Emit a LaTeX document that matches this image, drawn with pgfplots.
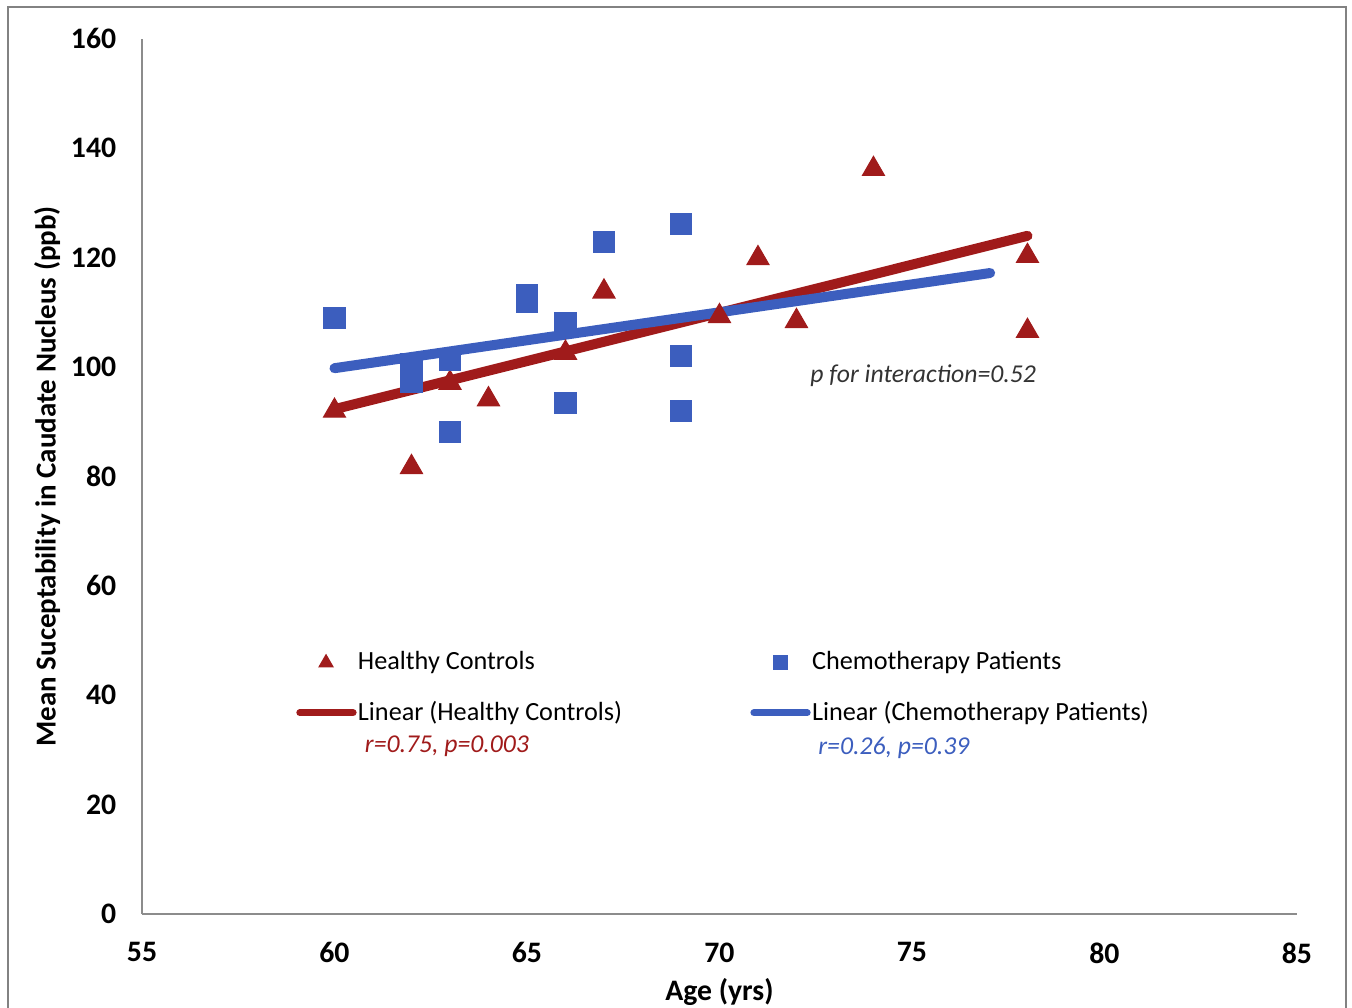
\documentclass[border=0pt]{standalone}
\usepackage{fontspec}
\setmainfont{Carlito}
\usepackage{pgfplots}
\pgfplotsset{compat=1.18}
\definecolor{hcred}{RGB}{160,27,27}
\definecolor{cpblue}{RGB}{60,94,190}
\definecolor{framegray}{RGB}{130,130,130}
\definecolor{axisgray}{RGB}{140,140,140}

\pgfplotsset{
    tri legend/.style={legend image code/.code={\path (0pt,0pt) (22pt,0pt);
        \draw[##1, mark size=3pt] plot coordinates {(11pt,0pt)};}},
    sq legend/.style={legend image code/.code={\path (0pt,0pt) (22pt,0pt);
        \draw[##1, mark size=2.6pt] plot coordinates {(11pt,0pt)};}},
    fit legend/.style={legend image code/.code={\draw[##1, line width=2.6pt] (1.3pt,0pt) -- (21pt,0pt);}},
}

\begin{document}
\begin{tikzpicture}
\path[use as bounding box] (-52.51pt,-34.39pt) rectangle (447.46pt,338.0pt);
\draw[framegray, line width=1pt] (-49.6pt,-40pt) -- (-49.6pt,335.4pt) -- (445.2pt,335.4pt) -- (445.2pt,-40pt);
\begin{axis}[
    scale only axis, width=427.1pt, height=323.6pt,
    xmin=55, xmax=85, ymin=0, ymax=160,
    xtick={55,60,...,85}, ytick={0,20,...,160},
    axis x line*=bottom, axis y line*=left,
    axis line style={axisgray, line width=0.8pt, -},
    major tick length=0pt,
    tick label style={font=\fontsize{11}{13}\selectfont\bfseries},
    /pgf/number format/assume math mode=true,
    xticklabel style={yshift=-7pt},
    yticklabel style={xshift=-6pt},
    xlabel={Age (yrs)},
    ylabel={Mean Suceptability in Caudate Nucleus (ppb)},
    xlabel style={font=\fontsize{11}{13}\selectfont\bfseries,
        at={(axis description cs:0.5,-0.089)}, anchor=center},
    ylabel style={font=\fontsize{10.7}{13}\selectfont\bfseries,
        at={(axis description cs:-0.082,0.5)}, anchor=center},
    legend columns=2, legend cell align=left,
    legend style={draw=none, fill=none, inner sep=0pt,
        at={(axis cs:58.98,48.3)}, anchor=north west,
        font=\fontsize{9.7}{11}\selectfont,
        nodes={inner sep=0.5pt, text depth=0.15em},
        /tikz/every even column/.append style={column sep=46.7pt},
        row sep=9pt},
    clip=false,
]
% healthy controls
\addplot[only marks, mark=triangle*, mark size=4.7pt, hcred, tri legend]
    coordinates {(60,92.0)(62,81.7)(63,97.1)(64,94.1)(66,102.6)(67,113.8)
                 (70,109.3)(71,119.9)(72,108.4)(74,136.2)(78,120.3)(78,106.6)};
% chemotherapy patients
\addplot[only marks, mark=square*, mark size=3.9pt, cpblue, sq legend]
    coordinates {(60,109.0)(62,100.5)(62,97.2)(63,101.4)(63,88.2)(65,113.2)(65,112.0)
                 (66,108.0)(66,93.5)(67,122.8)(69,126.2)(69,102.1)(69,91.9)};
% trend lines
\addplot[hcred, line width=3.7pt, line cap=round, fit legend]
    coordinates {(60,92.3)(78,124.0)};
\addplot[cpblue, line width=3.7pt, line cap=round, fit legend]
    coordinates {(60,99.8)(77.03,117.2)};
\legend{Healthy Controls, Chemotherapy Patients, Linear (Healthy Controls), Linear (Chemotherapy Patients)}
\node[font=\fontsize{9.5}{11}\selectfont\itshape, text=black!80] at (axis cs:75.29,98.5) {p for interaction=0.52};
\node[font=\fontsize{9.5}{11}\selectfont\itshape, text=hcred] at (axis cs:62.92,30.7) {r=0.75, p=0.003};
\node[font=\fontsize{9.5}{11}\selectfont\itshape, text=cpblue] at (axis cs:74.53,30.35) {r=0.26, p=0.39};
\end{axis}
\end{tikzpicture}
\end{document}
